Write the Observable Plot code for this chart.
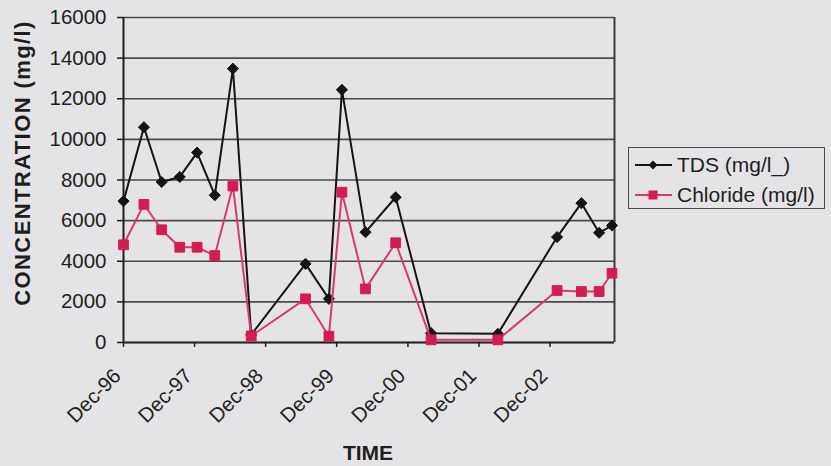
<!DOCTYPE html>
<html>
<head>
<meta charset="utf-8">
<script src="https://cdn.jsdelivr.net/npm/d3@7"></script>
<script src="https://cdn.jsdelivr.net/npm/@observablehq/plot@0.6"></script>
<style>
  body { margin: 0; background: #e4e4e6; }
  #chart { position: relative; width: 831px; height: 466px; font-family: "Liberation Sans", Arial, sans-serif; color: #1e1e1e; }
  #chart > svg { position: absolute; left: 0; top: 0; }
  .ytitle { position: absolute; left: 23px; top: 163px; transform: translate(-50%, -50%) rotate(-90deg); white-space: nowrap; font-weight: bold; font-size: 22px; letter-spacing: 1.4px; }
  .xtitle { position: absolute; left: 368px; top: 453px; transform: translate(-50%, -50%); font-weight: bold; font-size: 21px; }
  .legend { position: absolute; left: 628px; top: 147px; width: 197px; height: 62px; border: 1.5px solid #4a4a4a; box-sizing: border-box; font-size: 21px; }
  .legend .row { position: absolute; left: 5px; height: 26px; display: flex; align-items: center; white-space: nowrap; }
  .legend .row svg { display: block; margin-right: 4px; }
</style>
</head>
<body>
<div id="chart">
  <div class="ytitle">CONCENTRATION (mg/l)</div>
  <div class="xtitle">TIME</div>
  <div class="legend" id="legend"></div>
</div>
<script>
// Sampling dates and measured concentrations (mg/l)
const sampleDates = [
  "1996-12-15", "1997-03-30", "1997-06-29", "1997-09-30", "1997-12-28",
  "1998-03-29", "1998-06-30", "1998-10-02", "1999-07-08", "1999-11-05",
  "2000-01-11", "2000-05-11", "2000-10-13", "2001-04-13", "2002-03-22",
  "2003-01-20", "2003-05-25", "2003-08-24", "2003-10-29"
];
const tdsValues = [
  6960, 10600, 7900, 8150, 9350,
  7250, 13480, 380, 3870, 2150,
  12440, 5430, 7150, 460, 430,
  5190, 6860, 5400, 5760
];
const chlorideValues = [
  4810, 6800, 5550, 4690, 4690,
  4280, 7700, 320, 2150, 310,
  7400, 2640, 4910, 130, 130,
  2560, 2510, 2510, 3410
];
const seriesNames = ["TDS (mg/l_)", "Chloride (mg/l)"];
const yTicks = [0, 2000, 4000, 6000, 8000, 10000, 12000, 14000, 16000];
const xTickDates = ["1996-12-15", "1997-12-15", "1998-12-15", "1999-12-15", "2000-12-15", "2001-12-15", "2002-12-15"];
const xDomain = ["1996-12-15", "2003-11-11"];

const tdsColor = "#141414";
const clMarker = "#d41c52";
const clLine = "#d63a6a";

const rows = sampleDates.map((d, i) => ({ date: new Date(d), tds: tdsValues[i], chloride: chlorideValues[i] }));
const ticks = xTickDates.map(d => new Date(d));
const domain = xDomain.map(d => new Date(d));

const plot = Plot.plot({
  width: 831,
  height: 466,
  marginLeft: 123,
  marginRight: 217,
  marginTop: 17,
  marginBottom: 124,
  style: { background: "transparent", fontFamily: "'Liberation Sans', Arial, sans-serif", fontSize: "20.5px", color: "#1e1e1e", overflow: "visible" },
  x: { type: "utc", domain },
  y: { domain: [0, 16000] },
  marks: [
    Plot.gridY(yTicks, { stroke: "#4b4b4b", strokeOpacity: 1, strokeWidth: 1.6 }),
    Plot.ruleX([domain[1]], { stroke: "#3a3a3a", strokeWidth: 2 }),
    Plot.ruleY([0], { stroke: "#2a2a2a", strokeWidth: 1.8 }),
    Plot.ruleX([domain[0]], { stroke: "#1e1e1e", strokeWidth: 2 }),
    Plot.axisY(yTicks, { tickSize: 6, tickPadding: 11, tickFormat: d3.format("d"), label: null, strokeWidth: 1.5 }),
    // tick marks below the date axis
    Plot.axisX(ticks, { tickSize: 5, label: null, tickFormat: () => "", strokeWidth: 1.5 }),
    // rotated date labels
    Plot.axisX(ticks, { tickSize: 0, tickRotate: -45, tickPadding: 27, dx: -6, dy: 3, tickFormat: d3.utcFormat("%b-%y"), label: null }),
    Plot.line(rows, { x: "date", y: "tds", stroke: tdsColor, strokeWidth: 2 }),
    Plot.dot(rows, { x: "date", y: "tds", symbol: "diamond2", fill: tdsColor, stroke: tdsColor, strokeWidth: 1, r: 5 }),
    Plot.line(rows, { x: "date", y: "chloride", stroke: clLine, strokeWidth: 2 }),
    Plot.dot(rows, { x: "date", y: "chloride", symbol: "square", fill: clMarker, stroke: clMarker, strokeWidth: 1, r: 5.5 })
  ]
});
document.getElementById("chart").prepend(plot);

// Legend entries: line sample with its marker, then the series name
const legend = document.getElementById("legend");
[[seriesNames[0], tdsColor, tdsColor, "diamond"], [seriesNames[1], clLine, clMarker, "square"]].forEach(([name, line, mark, shape], i) => {
  const row = document.createElement("div");
  row.className = "row";
  row.style.top = (i === 0 ? 4 : 34) + "px";
  const marker = shape === "diamond"
    ? `<path d="M19,7.5 L23.5,12 L19,16.5 L14.5,12 Z" fill="${mark}"/>`
    : `<rect x="14.5" y="7.5" width="9" height="9" fill="${mark}"/>`;
  row.innerHTML = `<svg width="39" height="24"><line x1="1" y1="12" x2="38" y2="12" stroke="${line}" stroke-width="2"/>${marker}</svg><span>${name}</span>`;
  legend.appendChild(row);
});
</script>
</body>
</html>
